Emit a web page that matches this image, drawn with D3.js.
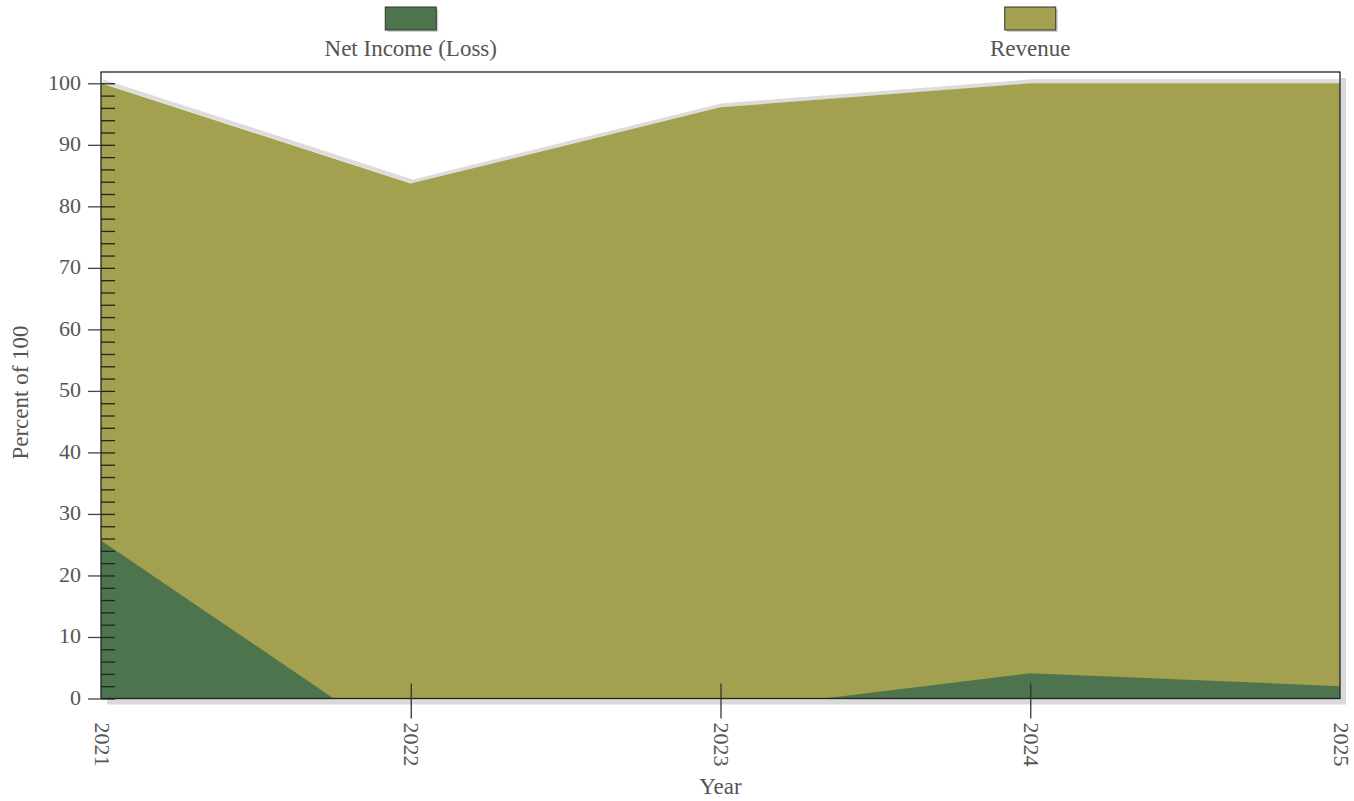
<!DOCTYPE html>
<html>
<head>
<meta charset="utf-8">
<script src="https://cdn.jsdelivr.net/npm/d3@7"></script>
<style>
  html, body { margin: 0; padding: 0; background: #fff; }
  svg text { font-family: "Liberation Serif", "Times New Roman", "DejaVu Serif", serif; }
</style>
</head>
<body>
<svg id="chart" width="1354" height="801"></svg>
<script>
// ---- data ----
const years = [2021, 2022, 2023, 2024, 2025];
const revenue = [100, 83.7, 96.1, 100, 100];
const netIncome = [25.7, -8.5, -2.05, 4.1, 2.0];
const seriesNames = ["Net Income (Loss)", "Revenue"];
const seriesColors = ["#4D744D", "#A3A14F"];
const yMajorTicks = [0, 10, 20, 30, 40, 50, 60, 70, 80, 90, 100];
const yMinorTicks = d3.range(0, 101, 2);

(function () {
const FONT = "'Liberation Serif', 'Times New Roman', serif";
const svg = d3.select("#chart").attr("font-family", FONT);
const pLeft = 101, pRight = 1340, pTop = 72, pBottom = 698.5;
const textColor = "#555";

const x = d3.scalePoint().domain(years).range([pLeft, pRight]);
const y = d3.scaleLinear().domain([0, 100]).range([pBottom, 83.3]);

// plot shadow + background
svg.append("rect").attr("x", pLeft + 6).attr("y", pTop + 6)
  .attr("width", pRight - pLeft).attr("height", pBottom - pTop).attr("fill", "#d9d9d9");
svg.append("rect").attr("x", pLeft).attr("y", pTop)
  .attr("width", pRight - pLeft).attr("height", pBottom - pTop).attr("fill", "#fff");

svg.append("defs").append("clipPath").attr("id", "plotclip")
  .append("rect").attr("x", pLeft).attr("y", pTop)
  .attr("width", pRight - pLeft).attr("height", pBottom - pTop);

const g = svg.append("g").attr("clip-path", "url(#plotclip)");

const revData = years.map((yr, i) => ({ yr, v: revenue[i] }));
const netData = years.map((yr, i) => ({ yr, v: netIncome[i] }));

const area = d3.area().x(d => x(d.yr)).y0(y(0)).y1(d => y(d.v));
const line = d3.line().x(d => x(d.yr)).y(d => y(d.v));

// revenue shadow
g.append("path").datum(revData).attr("d", line)
  .attr("fill", "none").attr("stroke", "#dcdcdc").attr("stroke-width", 4)
  .attr("transform", "translate(2,-2)");
g.append("path").datum(revData).attr("d", area).attr("fill", seriesColors[1]);
g.append("path").datum(netData).attr("d", area).attr("fill", seriesColors[0]);

// frame
svg.append("rect").attr("x", pLeft).attr("y", pTop)
  .attr("width", pRight - pLeft).attr("height", pBottom - pTop)
  .attr("fill", "none").attr("stroke", "#222").attr("stroke-width", 1.3);

// y minor ticks (inside)
const yMinor = svg.append("g").attr("transform", `translate(${pLeft},0)`)
  .call(d3.axisRight(y).tickValues(yMinorTicks).tickSize(14).tickFormat(""));
yMinor.select(".domain").remove();
yMinor.selectAll("line").attr("stroke", "#222").attr("stroke-width", 1.3);

// y major ticks
const yAxis = svg.append("g").attr("transform", `translate(${pLeft},0)`)
  .call(d3.axisLeft(y).tickValues(yMajorTicks).tickSize(13).tickPadding(7));
yAxis.attr("font-family", FONT).attr("font-size", 22);
yAxis.select(".domain").remove();
yAxis.selectAll("line").attr("stroke", "#444").attr("stroke-width", 1.3);
yAxis.selectAll("text").attr("fill", textColor).attr("dy", "0.27em");

// x axis
const xAxis = svg.append("g").attr("transform", `translate(0,${pBottom})`)
  .call(d3.axisBottom(x).tickSize(20).tickPadding(0));
xAxis.attr("font-family", FONT).attr("font-size", 22);
xAxis.select(".domain").remove();
xAxis.selectAll(".tick").each(function (d) {
  const t = d3.select(this);
  if (d === years[0] || d === years[years.length - 1]) {
    t.select("line").remove();
  } else {
    t.select("line").attr("y1", -15).attr("y2", 20).attr("stroke", "#333").attr("stroke-width", 1.3);
  }
});
xAxis.selectAll("text")
  .attr("fill", textColor)
  .attr("text-anchor", "start")
  .attr("y", 0).attr("dy", "0")
  .attr("transform", "translate(-7,24) rotate(90)");

// axis titles
svg.append("text").attr("x", (pLeft + pRight) / 2).attr("y", 794)
  .attr("text-anchor", "middle").attr("font-size", 23).attr("fill", textColor).text("Year");
svg.append("text").attr("transform", `translate(28,${(83 + 698) / 2 + 2}) rotate(-90)`)
  .attr("text-anchor", "middle").attr("font-size", 23).attr("fill", textColor).text("Percent of 100");

// legend
const legendX = [x(2022), x(2024)];
seriesNames.forEach((name, i) => {
  const cx = legendX[i];
  svg.append("rect").attr("x", cx - 25.5 + 2).attr("y", 7 + 2).attr("width", 51).attr("height", 23)
    .attr("fill", "#d0d0d0");
  svg.append("rect").attr("x", cx - 25.5).attr("y", 7).attr("width", 51).attr("height", 23)
    .attr("fill", seriesColors[i]).attr("stroke", "#333").attr("stroke-width", 1);
  svg.append("text").attr("x", cx).attr("y", 56).attr("text-anchor", "middle")
    .attr("font-size", 23).attr("fill", textColor).text(name);
});
})();
</script>
</body>
</html>
